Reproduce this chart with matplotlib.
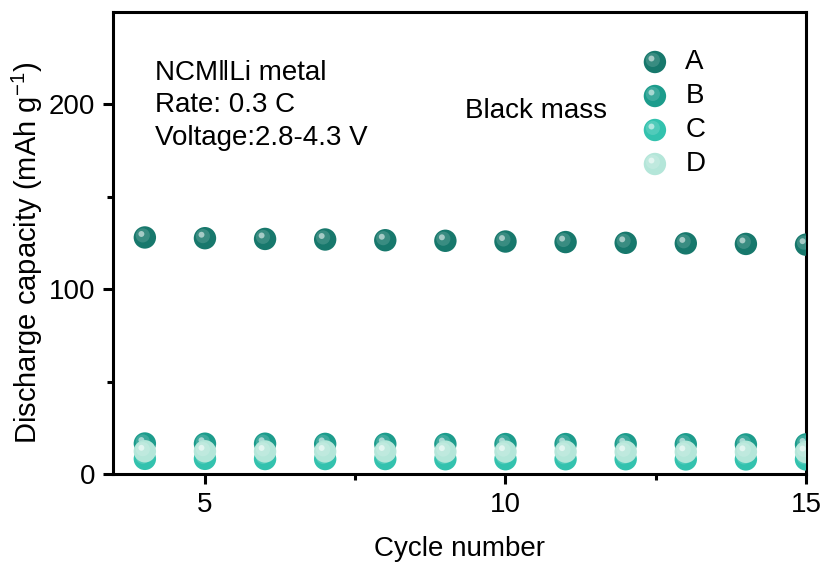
import matplotlib
matplotlib.use("Agg")
import matplotlib.pyplot as plt
from matplotlib.transforms import offset_copy

plt.rcParams["font.family"] = ["Liberation Sans", "DejaVu Sans"]

cycles = [4, 5, 6, 7, 8, 9, 10, 11, 12, 13, 14, 15]
cap_a = [128.0, 127.6, 127.2, 126.9, 126.5, 126.2, 125.8, 125.5, 125.1, 124.8, 124.5, 124.1]
cap_b = [16.5, 16.4, 16.4, 16.3, 16.3, 16.2, 16.2, 16.2, 16.1, 16.1, 16.0, 16.0]
cap_c = [8.2, 8.2, 8.1, 8.1, 8.1, 8.0, 8.0, 8.0, 8.0, 7.9, 7.9, 7.9]
cap_d = [12.3, 12.3, 12.2, 12.2, 12.2, 12.1, 12.1, 12.1, 12.0, 12.0, 12.0, 11.9]

labels = ["A", "B", "C", "D"]
colors = ["#17786c", "#1c9c8c", "#33c2ae", "#b4e6d9"]
series = [cap_a, cap_b, cap_c, cap_d]

FS = 20
MS = 260

fig = plt.figure(figsize=(8.26, 5.68), dpi=100)
ax = fig.add_axes([113 / 826, 94 / 568, 693 / 826, 462 / 568])


def sphere(ax, x, y, color, trans, z=3, clip=True):
    ax.scatter(x, y, s=MS, color=color, edgecolors="none", zorder=z, transform=trans, clip_on=clip)
    t1 = offset_copy(trans, fig=fig, x=-1.5, y=1.5, units="points")
    ax.scatter(x, y, s=MS * 0.4, color="white", alpha=0.15, edgecolors="none", zorder=z + 0.1, transform=t1, clip_on=clip)
    t2 = offset_copy(trans, fig=fig, x=-2.5, y=2.5, units="points")
    ax.scatter(x, y, s=MS * 0.07, color="white", alpha=0.55, edgecolors="none", zorder=z + 0.2, transform=t2, clip_on=clip)


for i, vals in enumerate(series):
    sphere(ax, cycles, vals, colors[i], ax.transData, z=3 + i)

ax.set_xlim(3.47, 15)
ax.set_ylim(0, 250)
ax.set_xticks([5, 10, 15])
ax.set_xticks([7.5, 12.5], minor=True)
ax.set_yticks([0, 100, 200])
ax.set_yticks([50, 150], minor=True)

for s in ax.spines.values():
    s.set_linewidth(2.2)
ax.tick_params(which="major", direction="out", length=7, width=2.2, labelsize=FS, pad=6)
ax.tick_params(which="minor", direction="out", length=4, width=2.2)

ax.set_xlabel("Cycle number", fontsize=FS, labelpad=13)
ax.set_ylabel("Discharge capacity (mAh g$\\mathregular{^{-1}}$)", fontsize=21)
ax.yaxis.set_label_coords(-0.098, 0.478)

info = ["NCM\u2016Li metal", "Rate: 0.3 C", "Voltage:2.8-4.3 V"]
for k, t in enumerate(info):
    ax.text(0.061, 1 - (73 - 12 + 32.5 * k) / 462, t, transform=ax.transAxes, fontsize=FS, va="center")

ax.text(0.508, 1 - (111 - 12) / 462, "Black mass", transform=ax.transAxes, fontsize=FS, va="center")

# legend drawn as markers in axes coordinates
for k, lab in enumerate(labels):
    yy = 1 - (62 - 12 + 34 * k) / 462
    sphere(ax, [0.782], [yy], colors[k], ax.transAxes, z=6, clip=False)
    ax.text(0.826, yy, lab, transform=ax.transAxes, fontsize=FS, va="center")

fig.savefig("out.png", dpi=100, facecolor="white")
